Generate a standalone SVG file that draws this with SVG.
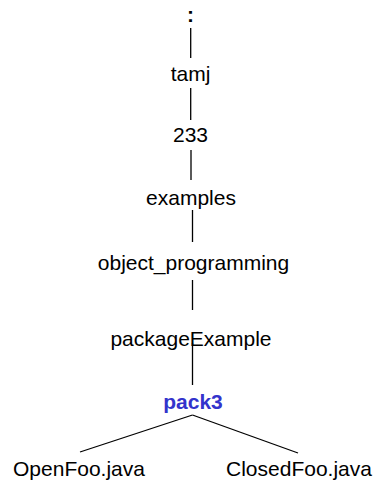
<svg xmlns="http://www.w3.org/2000/svg" width="376" height="481" viewBox="0 0 376 481">
  <style>
    .lbl { font-family: "Liberation Sans", Arial, sans-serif; font-size: 21px; fill: #000; text-anchor: middle; }
    .cur { font-weight: bold; fill: #3333cc; }
    .edge { stroke: #000; stroke-width: 1.3; fill: none; }
  </style>
  <rect width="376" height="481" fill="#fff"/>
  <g id="connectors">
    <line class="edge" x1="190.7" y1="28" x2="190.7" y2="58"/>
    <line class="edge" x1="190.7" y1="88" x2="190.7" y2="120"/>
    <line class="edge" x1="191" y1="150" x2="191" y2="180"/>
    <line class="edge" x1="192.5" y1="210" x2="192.5" y2="242"/>
    <line class="edge" x1="192.5" y1="280" x2="192.5" y2="310"/>
    <line class="edge" x1="192.5" y1="343" x2="192.5" y2="385"/>
    <line class="edge" x1="192.5" y1="415" x2="80" y2="452"/>
    <line class="edge" x1="192.5" y1="415" x2="298" y2="453"/>
  </g>
  <g id="root"><text class="lbl" x="190.5" y="22.3" font-weight="bold">:</text></g>
  <g id="tamj"><text class="lbl" x="190.5" y="81">tamj</text></g>
  <g id="n233"><text class="lbl" x="190.5" y="141.5">233</text></g>
  <g id="examples"><text class="lbl" x="191" y="204.5">examples</text></g>
  <g id="object_programming"><text class="lbl" x="193.5" y="270">object_programming</text></g>
  <g id="packageExample"><text class="lbl" x="191" y="346">packageExample</text></g>
  <g id="pack3"><text class="lbl cur" x="193" y="409">pack3</text></g>
  <g id="OpenFoo"><text class="lbl" x="79" y="476">OpenFoo.java</text></g>
  <g id="ClosedFoo"><text class="lbl" x="299" y="476">ClosedFoo.java</text></g>
</svg>
